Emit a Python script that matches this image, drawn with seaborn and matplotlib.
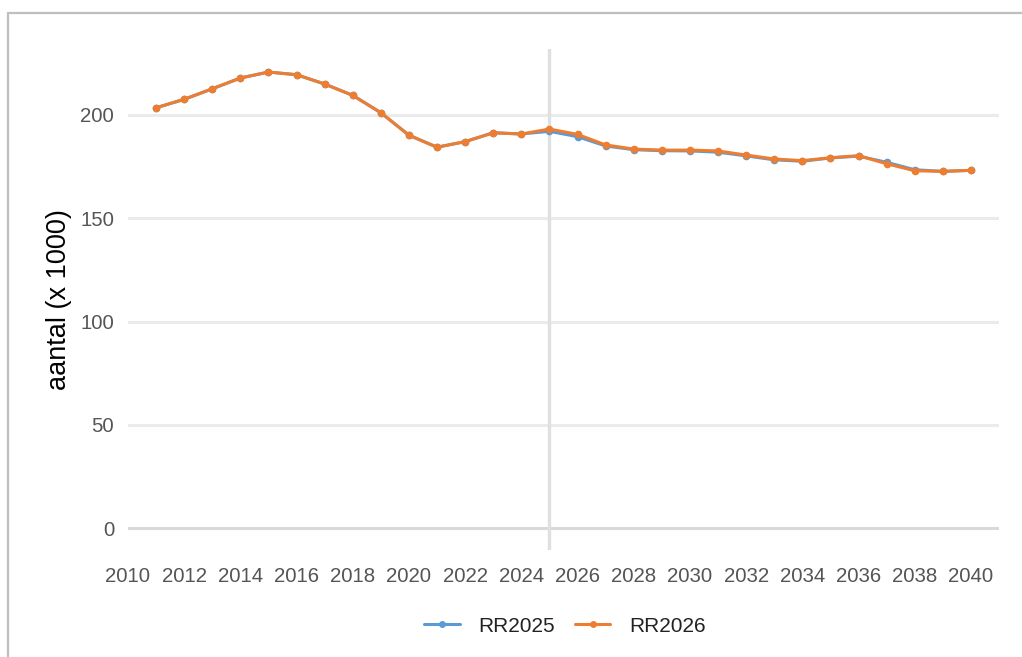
import matplotlib
matplotlib.use("Agg")
import matplotlib.pyplot as plt
from matplotlib.lines import Line2D
import seaborn as sns
import pandas as pd

years = list(range(2011, 2041))
rr2025 = [203.5, 207.6, 212.7, 217.9, 220.8, 219.5, 215.0, 209.5, 201.1, 190.2,
          184.4, 187.1, 191.4, 190.8, 192.1, 189.5, 185.0, 183.2, 182.7, 182.6,
          182.0, 180.2, 178.3, 177.6, 179.2, 180.1, 177.1, 173.5, 172.7, 173.2]
rr2026 = [203.5, 207.6, 212.7, 217.9, 220.8, 219.5, 215.0, 209.5, 201.1, 190.2,
          184.4, 187.1, 191.4, 190.8, 193.2, 190.6, 185.5, 183.5, 183.0, 183.0,
          182.6, 180.6, 178.7, 177.9, 179.3, 180.3, 176.4, 173.0, 172.7, 173.2]
series_names = ["RR2025", "RR2026"]
colors = ["#5b9bd5", "#ed7d31"]
x_ticks = list(range(2010, 2041, 2))
y_ticks = [0, 50, 100, 150, 200]
ref_year = 2025
y_label = "aantal (x 1000)"

df = pd.DataFrame({
    "jaar": years * 2,
    "aantal": rr2025 + rr2026,
    "reeks": [series_names[0]] * len(years) + [series_names[1]] * len(years),
})

sns.set_theme(style="white")
plt.rcParams["font.family"] = ["Liberation Sans", "DejaVu Sans"]

fig = plt.figure(figsize=(10.22, 6.57), dpi=100)
ax = fig.add_axes([128 / 1022, 1 - 550 / 657, (999 - 128) / 1022, (550 - 49) / 657])

for y in y_ticks:
    ax.axhline(y, color="#d9d9d9" if y == 0 else "#ebebeb", lw=2.2, zorder=0)
ax.axvline(ref_year, color="#e0e0e0", lw=2.4, zorder=0)

sns.lineplot(data=df, x="jaar", y="aantal", hue="reeks", palette=colors,
             marker="o", markersize=5.5, markeredgewidth=0, linewidth=2.2,
             ax=ax, legend=False, zorder=3)

ax.set_xlim(2010, 2041)
ax.set_ylim(-10.65, 231.96)
ax.set_xticks(x_ticks)
ax.set_yticks(y_ticks)
ax.tick_params(axis="both", length=0, labelsize=14.7, labelcolor="#555555")
ax.tick_params(axis="y", pad=10)
ax.tick_params(axis="x", pad=12)
ax.set_xlabel("")
ax.set_ylabel(y_label, fontsize=19.5, color="black", labelpad=6)
for s in ax.spines.values():
    s.set_visible(False)

handles = [Line2D([0], [0], color=c, lw=2.2, marker="o", markersize=5, markeredgewidth=0)
           for c in colors]
fig.legend(handles, series_names, loc="center", bbox_to_anchor=(565 / 1022, 1 - 626 / 657),
           ncol=2, frameon=False, fontsize=15, handlelength=1.7, handletextpad=0.9,
           columnspacing=0.95, labelcolor="#222222")

# figure border (top and left)
fig.add_artist(Line2D([8 / 1022, 8 / 1022], [0, 1 - 13 / 657], color="#bfbfbf", lw=1.6,
                      transform=fig.transFigure))
fig.add_artist(Line2D([8 / 1022, 1], [1 - 13 / 657, 1 - 13 / 657], color="#bfbfbf", lw=1.6,
                      transform=fig.transFigure))

fig.savefig("out.png", dpi=100)
